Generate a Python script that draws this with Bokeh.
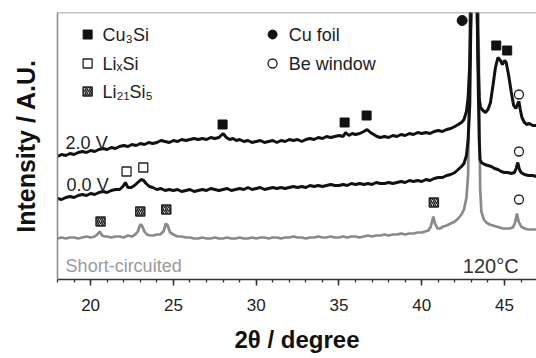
from bokeh.plotting import figure
from bokeh.models import Range1d, SingleIntervalTicker, FixedTicker, Span
from bokeh.core.properties import value
from bokeh.embed import file_html
from bokeh.resources import INLINE

FONT = "Liberation Sans"

# ---- 2.0 V pattern (black, top) ----
x_20V = [18.0, 18.25, 18.5, 18.75, 19.0, 19.25, 19.5, 19.75, 20.0, 20.25, 20.5, 20.75, 21.0, 21.25, 21.5, 21.75,
         22.0, 22.25, 22.5, 22.75, 23.0, 23.25, 23.5, 23.75, 24.0, 24.25, 24.5, 24.75, 25.0, 25.25, 25.5, 25.75,
         26.0, 26.25, 26.5, 26.75, 27.0, 27.25, 27.5, 27.75, 28.0, 28.2, 28.4, 28.6, 28.8, 29.0, 29.25, 29.5,
         29.75, 30.0, 30.25, 30.5, 30.75, 31.0, 31.25, 31.5, 31.75, 32.0, 32.25, 32.5, 32.75, 33.0, 33.25, 33.5,
         33.75, 34.0, 34.25, 34.5, 34.75, 35.0, 35.25, 35.4, 35.6, 35.8, 36.0, 36.25, 36.5, 36.7, 36.9, 37.1,
         37.3, 37.5, 37.75, 38.0, 38.25, 38.5, 38.75, 39.0, 39.25, 39.5, 39.75, 40.0, 40.25, 40.5, 40.75, 41.0,
         41.25, 41.5, 41.75, 42.0, 42.2, 42.4, 42.55, 42.7, 42.8, 42.9, 42.98, 43.16, 43.34, 43.42, 43.48, 43.55,
         43.7, 43.85, 44.0, 44.15, 44.3, 44.45, 44.6, 44.75, 44.87, 45.0, 45.1, 45.25, 45.4, 45.55, 45.68, 45.8,
         45.87, 45.95, 46.05, 46.2, 46.35, 46.5, 46.7, 46.93]
y_20V = [123, 125, 124, 126, 125, 127, 128, 127, 129, 128, 130, 131, 130, 132, 131, 133,
         134, 133, 135, 134, 136, 135, 137, 136, 137, 139, 138, 137, 139, 138, 140, 139,
         140, 141, 140, 141, 140, 142, 141, 142, 146, 142, 140, 141, 139, 140, 138, 139,
         137, 138, 139, 137, 138, 139, 137, 139, 138, 140, 139, 140, 138, 140, 141, 140,
         142, 141, 143, 142, 143, 144, 143, 147, 144, 146, 145, 146, 148, 150, 147, 145,
         143, 142, 143, 142, 144, 143, 145, 144, 146, 145, 147, 146, 147, 146, 148, 149,
         148, 150, 151, 153, 155, 157, 160, 168, 182, 215, 275, 700, 275, 210, 180, 172,
         169, 167, 170, 177, 194, 212, 222, 219, 215, 219, 217, 204, 188, 174, 171, 176,
         178, 170, 162, 157, 155, 156, 154, 154]

# ---- 0.0 V pattern (black, middle) ----
x_00V = [18.0, 18.25, 18.5, 18.75, 19.0, 19.25, 19.5, 19.75, 20.0, 20.25, 20.5, 20.75, 21.0, 21.25, 21.5, 21.75,
         21.95, 22.1, 22.25, 22.45, 22.65, 22.85, 23.05, 23.2, 23.35, 23.55, 23.75, 24.0, 24.25, 24.5, 24.75, 25.0,
         25.25, 25.5, 25.75, 26.0, 26.25, 26.5, 26.75, 27.0, 27.25, 27.5, 27.75, 28.0, 28.25, 28.5, 28.75, 29.0,
         29.25, 29.5, 29.75, 30.0, 30.25, 30.5, 30.75, 31.0, 31.25, 31.5, 31.75, 32.0, 32.25, 32.5, 32.75, 33.0,
         33.25, 33.5, 33.75, 34.0, 34.25, 34.5, 34.75, 35.0, 35.25, 35.5, 35.75, 36.0, 36.25, 36.5, 36.75, 37.0,
         37.25, 37.5, 37.75, 38.0, 38.25, 38.5, 38.75, 39.0, 39.25, 39.5, 39.75, 40.0, 40.25, 40.5, 40.75, 41.0,
         41.25, 41.5, 41.75, 42.0, 42.2, 42.4, 42.55, 42.7, 42.8, 42.9, 42.98, 43.16, 43.34, 43.42, 43.47, 43.52,
         43.6, 43.8, 44.0, 44.2, 44.4, 44.6, 44.8, 45.0, 45.2, 45.4, 45.6, 45.72, 45.8, 45.9, 46.0, 46.2, 46.45,
         46.7, 46.93]
y_00V = [81, 80, 82, 83, 82, 84, 85, 84, 86, 85, 87, 88, 87, 89, 90, 90,
         93, 97, 92, 92, 94, 97, 100, 99, 96, 93, 92, 90, 91, 89, 90, 89,
         90, 88, 89, 90, 88, 89, 90, 89, 91, 90, 89, 90, 91, 89, 90, 91,
         90, 92, 90, 91, 92, 90, 91, 92, 91, 92, 91, 92, 93, 92, 93, 92,
         94, 93, 94, 93, 94, 95, 94, 94, 95, 94, 96, 95, 96, 95, 96, 95,
         97, 96, 96, 97, 96, 97, 98, 97, 99, 98, 99, 98, 100, 99, 101, 102,
         102, 104, 105, 107, 110, 113, 116, 124, 140, 175, 275, 650, 275, 185, 140, 120,
         117, 115, 114, 113, 111, 110, 108, 107, 107, 106, 107, 112, 117, 110, 107, 105, 104,
         104, 103]

# ---- Short-circuited pattern (grey, bottom) ----
x_sc = [18.0, 18.25, 18.5, 18.75, 19.0, 19.25, 19.5, 19.75, 20.0, 20.25, 20.4, 20.55, 20.7, 20.85, 21.0, 21.25,
        21.5, 21.75, 22.0, 22.25, 22.5, 22.7, 22.85, 23.0, 23.1, 23.25, 23.4, 23.6, 23.8, 24.0, 24.2, 24.4,
        24.55, 24.65, 24.8, 25.0, 25.25, 25.5, 25.75, 26.0, 26.25, 26.5, 26.75, 27.0, 27.25, 27.5, 27.75, 28.0,
        28.25, 28.5, 28.75, 29.0, 29.25, 29.5, 29.75, 30.0, 30.25, 30.5, 30.75, 31.0, 31.25, 31.5, 31.75, 32.0,
        32.25, 32.5, 32.75, 33.0, 33.25, 33.5, 33.75, 34.0, 34.25, 34.5, 34.75, 35.0, 35.25, 35.5, 35.75, 36.0,
        36.25, 36.5, 36.75, 37.0, 37.25, 37.5, 37.75, 38.0, 38.25, 38.5, 38.75, 39.0, 39.25, 39.5, 39.75, 40.0,
        40.2, 40.4, 40.55, 40.7, 40.8, 40.95, 41.1, 41.3, 41.5, 41.75, 42.0, 42.2, 42.4, 42.55, 42.7, 42.8,
        42.86, 42.91, 43.16, 43.41, 43.45, 43.49, 43.53, 43.6, 43.75, 43.9, 44.1, 44.3, 44.5, 44.7, 44.9, 45.1,
        45.3, 45.5, 45.62, 45.75, 45.85, 46.0, 46.2, 46.45, 46.7, 46.93]
y_sc = [41, 42, 41, 42, 42, 41, 42, 43, 42, 43, 45, 48, 44, 43, 43, 42,
        43, 43, 42, 44, 43, 45, 48, 55, 54, 48, 45, 44, 44, 45, 45, 48,
        56, 54, 47, 45, 43, 43, 42, 42, 41, 41, 42, 41, 41, 42, 41, 41,
        42, 41, 41, 42, 41, 41, 42, 41, 42, 42, 41, 42, 42, 41, 42, 42,
        43, 42, 42, 41, 42, 42, 43, 42, 42, 43, 42, 42, 43, 42, 43, 43,
        42, 43, 44, 43, 44, 44, 45, 44, 45, 45, 46, 45, 46, 46, 47, 47,
        48, 49, 53, 63, 56, 51, 51, 53, 54, 56, 58, 61, 65, 70, 82, 105,
        190, 275, 800, 275, 220, 140, 90, 68, 60, 57, 55, 54, 53, 52, 51, 51,
        51, 52, 56, 66, 58, 53, 51, 50, 50, 50]

# ---- phase markers ----
cu3si_x = [27.97, 35.34, 36.67, 44.5, 45.16]
cu3si_y = [155, 157, 164, 234, 229]
cufoil_x = [42.44]
cufoil_y = [259]
be_x = [45.87, 45.87, 45.87]
be_y = [185, 128, 80]
lixsi_x = [22.17, 23.18]
lixsi_y = [108, 112]
li21si5_x = [20.6, 23.0, 24.57, 40.73]
li21si5_y = [58, 68, 70, 77]

legend_labels = ["Cu\u2083Si", "Li\u2093Si", "Li\u2082\u2081Si\u2085", "Cu foil", "Be window"]
curve_labels = ["2.0 V", "0.0 V"]
x_ticks_interval = 5

p = figure(width=536, height=358, output_backend="svg", toolbar_location=None,
           x_range=Range1d(18, 46.93), y_range=Range1d(0, 267),
           min_border_left=57, min_border_right=0, min_border_top=12, min_border_bottom=79)
p.outline_line_color = None
p.grid.visible = False
p.background_fill_color = "white"
p.border_fill_color = "white"

BLACK = "#111111"
GREY = "#8a8a8a"

p.line(x_sc, y_sc, line_color=GREY, line_width=2.7)
p.line(x_00V, y_00V, line_color=BLACK, line_width=3.0)
p.line(x_20V, y_20V, line_color=BLACK, line_width=3.0)

# markers on patterns
p.scatter(cu3si_x, cu3si_y, marker="square", size=9, fill_color=BLACK, line_color=BLACK)
p.scatter(cufoil_x, cufoil_y, marker="circle", size=10, fill_color=BLACK, line_color=BLACK)
p.scatter(be_x, be_y, marker="circle", size=9, fill_color="white", line_color="#222222", line_width=1.3)
p.scatter(lixsi_x, lixsi_y, marker="square", size=9, fill_color="white", line_color="#222222", line_width=1.3)
p.scatter(li21si5_x, li21si5_y, marker="square", size=9, fill_color="#d0d0d0", line_color="#222222",
          line_width=1.5, hatch_pattern="/", hatch_color="#222222", hatch_scale=4, hatch_weight=1.4)

# legend (custom two-column)
p.scatter([19.82], [245], marker="square", size=9, fill_color=BLACK, line_color=BLACK)
p.scatter([19.82], [216], marker="square", size=9, fill_color="white", line_color="#222222", line_width=1.3)
p.scatter([19.82], [188], marker="square", size=9, fill_color="#d0d0d0", line_color="#222222",
          line_width=1.5, hatch_pattern="/", hatch_color="#222222", hatch_scale=4, hatch_weight=1.4)
p.scatter([30.99], [245], marker="circle", size=9, fill_color=BLACK, line_color=BLACK)
p.scatter([30.99], [216], marker="circle", size=9, fill_color="white", line_color="#222222", line_width=1.3)

p.text([20.72, 20.72, 20.72, 31.96, 31.96], [245, 216, 188, 245, 216], text=legend_labels,
       text_font=value(FONT), text_font_size="18px", text_color="#222222",
       text_baseline="middle", text_align="left")

# curve labels
p.text([18.49, 18.55], [137, 95], text=curve_labels, text_font=value(FONT),
       text_font_size="18px", text_color="#222222", text_baseline="alphabetic", text_align="left")
p.text([18.49], [14], text=["Short-circuited"], text_font=value(FONT),
       text_font_size="18px", text_color="#9a9a9a", text_baseline="alphabetic", text_align="left")
p.text([45.85], [14], text=["120\u00b0C"], text_font=value(FONT),
       text_font_size="20px", text_color="#333333", text_baseline="alphabetic", text_align="right")

# top border
p.add_layout(Span(location=267, dimension="width", line_color="#888888", line_width=1.5))

# x axis
p.xaxis.ticker = SingleIntervalTicker(interval=x_ticks_interval, num_minor_ticks=5)
p.xaxis.axis_label = "2\u03b8 / degree"
p.xaxis.axis_label_text_font = FONT
p.xaxis.axis_label_text_font_style = "bold"
p.xaxis.axis_label_text_font_size = "24px"
p.xaxis.axis_label_text_color = "#111111"
p.xaxis.axis_label_standoff = 12
p.xaxis.major_label_text_font = FONT
p.xaxis.major_label_text_font_size = "17px"
p.xaxis.major_label_text_color = "#222222"
p.xaxis.major_label_standoff = 13
p.xaxis.axis_line_color = "#333333"
p.xaxis.axis_line_width = 1.5
p.xaxis.major_tick_line_color = "#333333"
p.xaxis.minor_tick_line_color = "#333333"
p.xaxis.major_tick_line_width = 1.5
p.xaxis.minor_tick_line_width = 1.3
p.xaxis.major_tick_in = 0
p.xaxis.major_tick_out = 6
p.xaxis.minor_tick_in = 0
p.xaxis.minor_tick_out = 3

# y axis (no ticks)
p.yaxis.ticker = FixedTicker(ticks=[])
p.yaxis.axis_label = "Intensity / A.U."
p.yaxis.axis_label_text_font = FONT
p.yaxis.axis_label_text_font_style = "bold"
p.yaxis.axis_label_text_font_size = "25px"
p.yaxis.axis_label_text_color = "#111111"
p.yaxis.axis_label_standoff = 18
p.yaxis.major_tick_in = 0
p.yaxis.major_tick_out = 0
p.yaxis.minor_tick_in = 0
p.yaxis.minor_tick_out = 0
p.yaxis.major_label_standoff = 0
p.yaxis.axis_line_color = "#888888"
p.yaxis.axis_line_width = 1.5

open("out.html", "w").write(file_html(p, INLINE))
